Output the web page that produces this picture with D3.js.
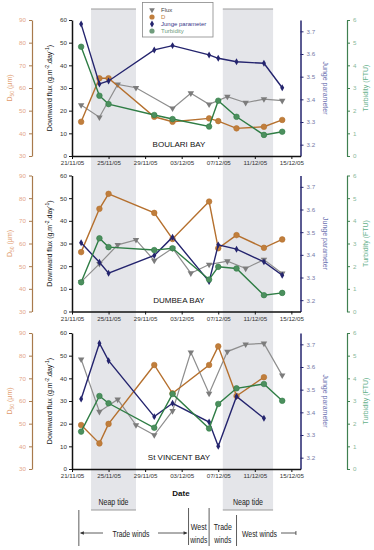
<!DOCTYPE html>
<html>
<head>
<meta charset="utf-8">
<script src="https://cdn.jsdelivr.net/npm/d3@7"></script>
<style>
  body { margin: 0; background: #fff; }
  svg { display: block; font-family: "Liberation Sans", Arial, sans-serif; }
</style>
</head>
<body>
<div id="chart"></div>
<script>
// ---- data ----
const sampleDates = ["22/11/05", "24/11/05", "25/11/05", "30/11/05", "02/12/05", "06/12/05", "07/12/05", "09/12/05", "12/12/05", "14/12/05"];
const fluxDates = ["22/11/05", "24/11/05", "26/11/05", "28/11/05", "30/11/05", "02/12/05", "04/12/05", "06/12/05", "08/12/05", "10/12/05", "12/12/05", "14/12/05"];
const tickDates = ["21/11/05", "25/11/05", "29/11/05", "03/12/05", "07/12/05", "11/12/05", "15/12/05"];

const bays = ["BOULARI BAY", "DUMBEA BAY", "St VINCENT BAY"];

const fluxBoulari = [22.5, 17.1, 31.6, 30.1, null, 21.0, 27.7, 22.8, 26.2, 23.5, 25.1, 24.4];
const d50Boulari = [45.1, 64.3, 64.3, 47.3, 45.1, 46.6, 45.4, 42.2, 42.9, 45.9];
const jungeBoulari = [3.732, 3.468, 3.481, 3.618, 3.637, 3.596, 3.581, 3.566, 3.559, 3.451];
const turbBoulari = [4.82, 2.66, 2.29, 1.81, 1.63, 1.30, 2.44, 1.73, 0.93, 1.07];

const fluxDumbea = [13.1, 21.0, 29.4, 31.6, 22.5, 27.9, 16.9, 20.7, 22.2, 19.0, 22.9, 16.8];
const d50Dumbea = [56.2, 75.3, 81.9, 73.5, 62.0, 78.5, 57.9, 63.7, 58.1, 61.8];
const jungeDumbea = [3.453, 3.367, 3.319, 3.397, 3.478, 3.282, 3.444, 3.425, 3.369, 3.310];
const turbDumbea = [1.29, 3.23, 2.84, 2.71, 2.79, 1.41, 1.97, 1.90, 0.72, 0.82];

const fluxVincent = [48.4, 25.3, 30.7, 19.4, 15.0, 25.6, 51.5, 33.3, 51.8, 55.0, 55.4, 41.3];
const d50Vincent = [49.4, 41.3, 49.9, 75.9, 63.4, 75.9, 84.1, 62.2, 70.5, null];
const jungeVincent = [3.459, 3.705, 3.628, 3.381, 3.440, 3.357, 3.250, 3.470, 3.374, null];
const turbVincent = [1.65, 3.22, 2.90, 1.82, 3.31, 1.79, 2.87, 3.56, 3.75, 3.01];

const neapTides = [["23/11/05 02", "28/11/05 00"], ["07/12/05 12", "13/12/05 00"]];
const windBreaks = ["21/11/05 18", "03/12/05 18", "06/12/05 00", "09/12/05 00"];
const windEnd = "15/12/05 12";

const panels = [
  { name: bays[0], flux: fluxBoulari, d50: d50Boulari, junge: jungeBoulari, turb: turbBoulari },
  { name: bays[1], flux: fluxDumbea, d50: d50Dumbea, junge: jungeDumbea, turb: turbDumbea },
  { name: bays[2], flux: fluxVincent, d50: d50Vincent, junge: jungeVincent, turb: turbVincent }
];

const colFlux = "#8e8e8e", colD = "#b5702e", colJ = "#24246e", colT = "#2f7d45";

const parseDay = d3.timeParse("%d/%m/%y");
const parseHour = d3.timeParse("%d/%m/%y %H");

const width = 374, height = 550;
const panelTops = [20, 175.5, 333];
const ph = 136;
const narrow = "'Liberation Sans Narrow', 'Liberation Sans', Arial";

const svg = d3.select("#chart").append("svg")
  .attr("width", width)
  .attr("height", height);

const x = d3.scaleTime()
  .domain([parseDay("21/11/05"), parseDay("16/12/05")])
  .range([72, 300.5]);

// squeezed label, like the condensed font of the original
function label(xx, yy, t, len) {
  svg.append("text").attr("x", xx).attr("y", yy).attr("text-anchor", "middle")
    .attr("font-family", narrow).attr("font-size", 9.5).attr("fill", "#222")
    .attr("textLength", len).attr("lengthAdjust", "spacingAndGlyphs")
    .text(t);
}

// neap tide bands behind everything
neapTides.forEach(n => {
  const x0 = x(parseHour(n[0])), x1 = x(parseHour(n[1]));
  svg.append("rect")
    .attr("x", x0).attr("y", 9)
    .attr("width", x1 - x0).attr("height", 501)
    .attr("fill", "#e4e5e9");
  [9, 510].forEach(yy => svg.append("line")
    .attr("x1", x0).attr("x2", x1).attr("y1", yy).attr("y2", yy)
    .attr("stroke", "#9a9a9a").attr("stroke-width", 1));
  label((x0 + x1) / 2, 505, "Neap tide", 30);
});

function styleAxis(g, lineCol, textCol, w) {
  g.attr("font-family", null).attr("font-size", 6.2);
  g.select(".domain").attr("stroke", lineCol).attr("stroke-width", w);
  g.selectAll(".tick line").attr("stroke", lineCol);
  g.selectAll(".tick text").attr("fill", textCol);
}

function series(dates, vals) {
  return dates.map((d, i) => ({ date: parseDay(d), v: vals[i] })).filter(p => p.v != null);
}

panels.forEach((p, i) => {
  const top = panelTops[i], bottom = top + ph;
  const yFlux = d3.scaleLinear().domain([0, 60]).range([bottom, top]);
  const yD = d3.scaleLinear().domain([30, 90]).range([bottom, top]);
  const yJ = d3.scaleLinear().domain([3.15, 3.75]).range([bottom, top]);
  const yT = d3.scaleLinear().domain([0, 6]).range([bottom, top]);

  // axes
  svg.append("g").attr("transform", `translate(32,0)`)
    .call(d3.axisLeft(yD).tickValues(d3.range(30, 91, 10)).tickFormat(d3.format("d")).tickSize(3).tickSizeOuter(0).tickPadding(3))
    .call(g => styleAxis(g, "#a87a4c", "#e4a587", 1.2));
  svg.append("g").attr("transform", `translate(72,0)`)
    .call(d3.axisLeft(yFlux).tickValues(d3.range(0, 61, 10)).tickFormat(d3.format("d")).tickSize(3).tickSizeOuter(0).tickPadding(2))
    .call(g => styleAxis(g, "#111", "#333", 1.5));
  svg.append("g").attr("transform", `translate(300.5,0)`)
    .call(d3.axisRight(yJ).tickValues([3.2, 3.3, 3.4, 3.5, 3.6, 3.7]).tickFormat(d3.format(".1f")).tickSize(3).tickSizeOuter(0).tickPadding(3))
    .call(g => styleAxis(g, colJ, "#7479a6", 1.5));
  svg.append("g").attr("transform", `translate(347,0)`)
    .call(d3.axisRight(yT).tickValues(d3.range(0, 7, 1)).tickFormat(d3.format("d")).tickSize(3).tickSizeOuter(0).tickPadding(3))
    .call(g => styleAxis(g, "#3f8050", "#8ab89a", 1.2));
  svg.append("g").attr("transform", `translate(0,${bottom})`)
    .call(d3.axisBottom(x).tickValues(tickDates.map(parseDay)).tickFormat(d3.timeFormat("%d/%m/%y")).tickSize(3).tickSizeOuter(0).tickPadding(2))
    .call(g => styleAxis(g, "#111", "#333", 1.5));

  // axis titles
  const mid = top + ph / 2;
  const dT = svg.append("text")
    .attr("transform", `translate(12,${mid}) rotate(-90)`)
    .attr("text-anchor", "middle").attr("font-size", 7).attr("fill", "#e09a6c");
  dT.append("tspan").text("D");
  dT.append("tspan").attr("font-size", 5).attr("dy", 2).text("50");
  dT.append("tspan").attr("dy", -2).text(" (\u00b5m)");

  const fT = svg.append("text")
    .attr("transform", `translate(52,${mid}) rotate(-90)`)
    .attr("text-anchor", "middle").attr("font-size", 7).attr("fill", "#111");
  fT.append("tspan").text("Downward flux (g.m");
  fT.append("tspan").attr("font-size", 5).attr("dy", -3).text("-2");
  fT.append("tspan").attr("dy", 3).text(".day");
  fT.append("tspan").attr("font-size", 5).attr("dy", -3).text("-1");
  fT.append("tspan").attr("dy", 3).text(")");

  svg.append("text")
    .attr("transform", `translate(323,${mid}) rotate(90)`)
    .attr("text-anchor", "middle").attr("font-size", 7).attr("fill", "#6a70b0")
    .text("Junge parameter");
  svg.append("text")
    .attr("transform", `translate(368,${mid}) rotate(-90)`)
    .attr("text-anchor", "middle").attr("font-size", 7).attr("fill", "#66b08a")
    .text("Turbidity (FTU)");

  // bay name
  svg.append("text")
    .attr("x", 179).attr("y", bottom - 9)
    .attr("text-anchor", "middle").attr("font-size", 8).attr("fill", "#111")
    .text(p.name);

  // series
  const defs = [
    { data: series(fluxDates, p.flux), y: yFlux, col: colFlux, sym: "tri" },
    { data: series(sampleDates, p.d50), y: yD, col: colD, sym: "circle" },
    { data: series(sampleDates, p.junge), y: yJ, col: colJ, sym: "diamond" },
    { data: series(sampleDates, p.turb), y: yT, col: colT, sym: "circle" }
  ];
  defs.forEach(s => {
    svg.append("path")
      .datum(s.data)
      .attr("fill", "none")
      .attr("stroke", s.col)
      .attr("stroke-width", s.sym === "tri" ? 1.2 : 1.4)
      .attr("d", d3.line().x(d => x(d.date)).y(d => s.y(d.v)));
    const g = svg.append("g");
    if (s.sym === "circle") {
      g.selectAll("circle").data(s.data).join("circle")
        .attr("cx", d => x(d.date)).attr("cy", d => s.y(d.v)).attr("r", 2.8)
        .attr("fill", s.col === colD ? "#c07e3c" : "#4c8f5e")
        .attr("stroke", s.col).attr("stroke-width", 0.6);
    } else {
      const sym = s.sym === "tri" ? d3.symbolTriangle : d3.symbolDiamond;
      g.selectAll("path").data(s.data).join("path")
        .attr("transform", d => `translate(${x(d.date)},${s.y(d.v)})` + (s.sym === "tri" ? " rotate(180)" : ""))
        .attr("d", d3.symbol(sym, s.sym === "tri" ? 18 : 14))
        .attr("fill", s.sym === "tri" ? "#7c7c7c" : s.col);
    }
  });
});

// legend
const legendItems = [
  { label: "Flux", sym: "tri", fill: "#7c7c7c", text: "#444" },
  { label: "D", sym: "circle", fill: "#c07e3c", text: "#c07e3c" },
  { label: "Junge parameter", sym: "diamond", fill: colJ, text: "#3a3a8a" },
  { label: "Turbidity", sym: "circle", fill: "#6f9c7c", text: "#6f9c7c" }
];
const lg = svg.append("g");
lg.append("rect").attr("x", 142.5).attr("y", 2.5).attr("width", 70.5).attr("height", 34.5)
  .attr("fill", "#fff").attr("stroke", "#888").attr("stroke-width", 0.8);
legendItems.forEach((it, k) => {
  const yy = 10 + k * 7;
  if (it.sym === "circle") {
    lg.append("circle").attr("cx", 152).attr("cy", yy).attr("r", 2.6).attr("fill", it.fill);
  } else {
    lg.append("path")
      .attr("transform", `translate(152,${yy})` + (it.sym === "tri" ? " rotate(180)" : ""))
      .attr("d", d3.symbol(it.sym === "tri" ? d3.symbolTriangle : d3.symbolDiamond, 14))
      .attr("fill", it.fill);
  }
  lg.append("text").attr("x", 161).attr("y", yy + 2).attr("font-size", 6)
    .attr("fill", it.text).text(it.label);
});

// Date label
svg.append("text").attr("x", 181).attr("y", 496)
  .attr("text-anchor", "middle").attr("font-size", 8).attr("font-weight", "bold").attr("fill", "#111")
  .text("Date");

// winds annotation
const wb = windBreaks.map(d => x(parseHour(d)));
const wl = svg.append("g").attr("stroke", "#333").attr("stroke-width", 0.8);
wl.append("line").attr("x1", wb[0]).attr("x2", wb[0]).attr("y1", 510).attr("y2", 546);
wl.append("line").attr("x1", wb[1]).attr("x2", wb[1]).attr("y1", 508).attr("y2", 545);
wl.append("line").attr("x1", wb[2]).attr("x2", wb[2]).attr("y1", 508).attr("y2", 546);
wl.append("line").attr("x1", wb[3]).attr("x2", wb[3]).attr("y1", 515).attr("y2", 546);

const ay = 533;
wl.append("line").attr("x1", wb[0] + 2).attr("x2", 103).attr("y1", ay).attr("y2", ay);
wl.append("line").attr("x1", 158).attr("x2", wb[1] - 2).attr("y1", ay).attr("y2", ay);
const we = x(parseHour(windEnd));
wl.append("line").attr("x1", 281).attr("x2", we).attr("y1", ay).attr("y2", ay);
wl.append("line").attr("x1", we).attr("x2", we).attr("y1", ay - 2).attr("y2", ay + 2);
svg.append("path").attr("d", `M${wb[0] + 1},${ay} l4,-1.8 l0,3.6 z`).attr("fill", "#333");
svg.append("path").attr("d", `M${wb[1] - 1},${ay} l-4,-1.8 l0,3.6 z`).attr("fill", "#333");

label(131, 536.5, "Trade winds", 37);
label((wb[1] + wb[2]) / 2, 530, "West", 16);
label((wb[1] + wb[2]) / 2, 543, "winds", 17);
label((wb[2] + wb[3]) / 2, 530, "Trade", 18);
label((wb[2] + wb[3]) / 2, 543, "winds", 17);
label(259.5, 536.5, "West winds", 35);
</script>
</body>
</html>
